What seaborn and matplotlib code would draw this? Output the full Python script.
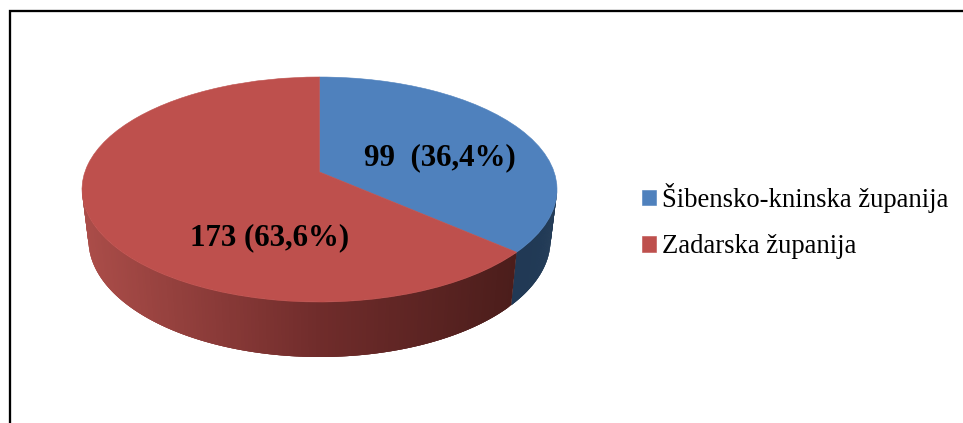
import numpy as np
import seaborn as sns
import matplotlib
matplotlib.use("Agg")
import matplotlib.pyplot as plt
from matplotlib.collections import PolyCollection
from matplotlib.colors import LinearSegmentedColormap
from matplotlib.lines import Line2D
from matplotlib.transforms import Transform

categories = ["Šibensko-kninska županija", "Zadarska županija"]
counts = [99, 173]
slice_labels = ["99  (36,4%)", "173 (63,6%)"]

W, H = 963, 423
PERSP = 0.156            # how far the pie centre shifts back on the disc
BASE_SX, BASE_SY, BASE_DY = 231 / 237.5, 117 / 112.5, 50.5 / 112.5

sns.set_theme(style="white")
plt.rcParams["font.family"] = ["Liberation Serif", "DejaVu Serif"]
top_colors = sns.color_palette(["#4F81BD", "#BE504D"])


def project(u, v):
    d = 1 + PERSP * v
    return u * np.sqrt(1 - PERSP ** 2) / d, (v + PERSP) / d


class Perspective(Transform):
    input_dims = output_dims = 2

    def transform_non_affine(self, values):
        values = np.asarray(values, dtype=float)
        return np.column_stack(project(values[:, 0], values[:, 1]))


fig = plt.figure(figsize=(W / 100, H / 100), dpi=100, facecolor="white")
ax = fig.add_axes([82 / W, 1 - 302 / H, 475 / W, 225 / H])
wedges, _ = ax.pie(counts, colors=top_colors, startangle=90, counterclock=False,
                   radius=1, wedgeprops=dict(linewidth=0.4))
for wedge, color in zip(wedges, top_colors):
    wedge.set_edgecolor(color)
    wedge.set_transform(Perspective() + ax.transData)
    wedge.set_clip_on(False)
    wedge.set_zorder(3)
ax.set_aspect("auto")
ax.set_xlim(-1, 1)
ax.set_ylim(-1, 1)
ax.axis("off")

# side wall, slice boundaries come from the values
fractions = np.cumsum([0] + counts) / sum(counts)
theta_edge = np.degrees(np.arccos(-PERSP))
red_cmap = LinearSegmentedColormap.from_list(
    "redside", [(0, "#AB4D49"), (0.5, "#702C2B"), (0.92, "#4B1D1B"), (1, "#4B1D1B")])
blue_cmap = LinearSegmentedColormap.from_list(
    "blueside", [(0, "#1D3048"), (1, "#213A56")])
cmaps = [blue_cmap, red_cmap]
for i, cmap in enumerate(cmaps):
    a0 = max(360 * fractions[i], theta_edge)
    a1 = min(360 * fractions[i + 1], 360 - theta_edge)
    th = np.radians(np.linspace(a0, a1, 161))
    xt, yt = project(np.sin(th), np.cos(th))
    xb, yb = BASE_SX * xt, BASE_SY * yt - BASE_DY
    polys, cols = [], []
    # painted in order; each band runs on under the next so no seams show
    for j in range(len(th) - 1):
        k = min(j + 3, len(th) - 1)
        polys.append(list(zip(xt[j:k + 1], yt[j:k + 1])) +
                     list(zip(xb[j:k + 1][::-1], yb[j:k + 1][::-1])))
        cols.append(cmap((0.5 * (xt[j] + xt[j + 1]) + 1) / 2))
    ax.add_collection(PolyCollection(polys, facecolors=cols, edgecolors="none",
                                     clip_on=False, zorder=2 + 0.1 * i))

ax.text(44 / 237.5, (189.5 - 157.5) / 112.5, slice_labels[0], fontsize=22.2,
        fontweight="bold", ha="left", va="center", color="black", zorder=5)
ax.text(-130 / 237.5, (189.5 - 238) / 112.5, slice_labels[1], fontsize=22.2,
        fontweight="bold", ha="left", va="center", color="black", zorder=5)

fig.legend(wedges, categories, loc="upper left", bbox_to_anchor=(642 / W, 1 - 183 / H),
           bbox_transform=fig.transFigure, frameon=False, fontsize=19.2,
           handlelength=0.53, handleheight=0.53, handletextpad=0.23, labelspacing=0.805,
           borderpad=0, borderaxespad=0, labelcolor="black")

lw = 2.3 * 72 / 100
fig.add_artist(Line2D([9.5 / W, 9.5 / W, 1], [0, 1 - 11.2 / H, 1 - 11.2 / H],
                      color="black", lw=lw, solid_joinstyle="miter",
                      transform=fig.transFigure))

fig.savefig("out.png", dpi=100, facecolor="white")
